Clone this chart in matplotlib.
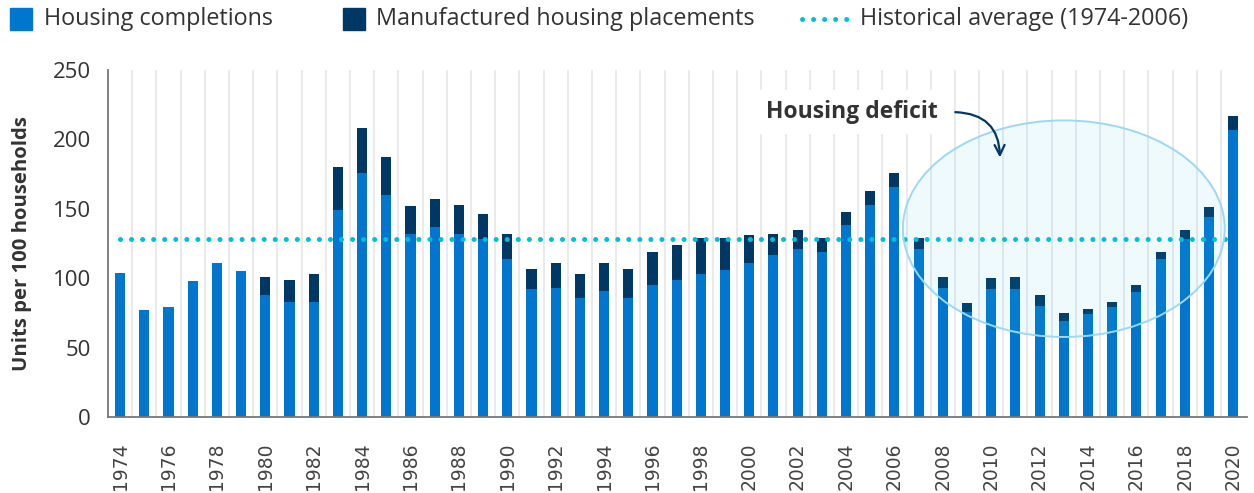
import matplotlib
matplotlib.use('Agg')
import matplotlib.pyplot as plt
from matplotlib.patches import Ellipse, Rectangle
from matplotlib.lines import Line2D

years = list(range(1974, 2021))
completions = [104, 77, 79, 98, 111, 105, 88, 83, 83, 149, 176, 160, 132, 137, 132, 128,
               114, 92, 93, 86, 91, 86, 95, 99, 103, 106, 111, 117, 121, 119, 138, 153,
               166, 121, 93, 76, 92, 92, 80, 69, 74, 79, 90, 114, 128, 144, 207]
totals = [104, 77, 79, 98, 111, 105, 101, 99, 103, 180, 208, 187, 152, 157, 153, 146,
          132, 107, 111, 103, 111, 107, 119, 124, 129, 129, 131, 132, 135, 129, 148, 163,
          176, 129, 101, 82, 100, 101, 88, 75, 78, 83, 95, 119, 135, 151, 217]
manufactured = [t - c for t, c in zip(totals, completions)]
hist_avg = 128.6
tick_years = years[::2]

c_blue = '#0076ce'
c_navy = '#003865'
c_cyan = '#00bfda'
c_text = '#333333'
fam = ['Open Sans', 'DejaVu Sans']

fig = plt.figure(figsize=(12.54, 4.93), dpi=100)
ax = fig.add_axes([0.0859, 0.154, 0.9085, 0.704])

x = list(range(len(years)))
ax.bar(x, completions, width=0.42, color=c_blue, zorder=2)
ax.bar(x, manufactured, width=0.42, bottom=completions, color=c_navy, zorder=2)
ax.plot([0, len(years) - 1], [hist_avg, hist_avg], color=c_cyan, lw=3.6,
        linestyle=(0, (0.01, 2.2)), dash_capstyle='round', zorder=3)

for k in range(len(years) - 1):
    ax.axvline(k + 0.5, color='#e6e6e6', lw=1.2, zorder=0)

ell = Ellipse((39.0, 135.7), 13.3, 156, facecolor='#33c3f0', alpha=0.08, edgecolor='none', zorder=3)
ax.add_patch(ell)
ell2 = Ellipse((39.0, 135.7), 13.3, 156, facecolor='none', edgecolor='#9dd8f3', lw=1.4, zorder=3)
ax.add_patch(ell2)

ax.text(30.25, 219.7, 'Housing deficit', fontsize=16.5, fontweight='bold', color=c_text,
        family=fam, ha='center', va='center', zorder=4,
        bbox=dict(facecolor='white', edgecolor='none', pad=7))
ax.annotate('', xy=(36.36, 185), xytext=(34.4, 219.7),
            arrowprops=dict(arrowstyle='->', color=c_navy, lw=1.6,
                            connectionstyle='arc3,rad=-0.5', mutation_scale=18), zorder=4)

ax.set_xlim(-0.51, 46.57)
ax.set_ylim(0, 250)
ax.set_yticks([0, 50, 100, 150, 200, 250])
ax.set_xticks(x[::2])
ax.set_xticklabels(tick_years, rotation=90, fontsize=13.5, family='DejaVu Sans', color='#444444')
for lab in ax.get_yticklabels():
    lab.set_fontsize(16)
    lab.set_family(fam)
    lab.set_color(c_text)
ax.tick_params(axis='x', length=0, pad=18)
ax.tick_params(axis='y', length=0, pad=12)
ax.set_ylabel('Units per 100 households', fontsize=14.6, fontweight='bold', color=c_text,
              family=fam, labelpad=15)
for s in ['top', 'right']:
    ax.spines[s].set_visible(False)
for s in ['left', 'bottom']:
    ax.spines[s].set_color('#777777')
    ax.spines[s].set_linewidth(1.3)

# legend drawn by hand at the top
H, W = 493, 1254
def fx(px):
    return px / W
def fy(py):
    return 1 - py / H

fig.patches.append(Rectangle((fx(10), fy(30)), fx(22), 22 / H, color=c_blue, transform=fig.transFigure))
fig.text(fx(44), fy(19), 'Housing completions', fontsize=16.8, color=c_text,
         family=fam, va='center')
fig.patches.append(Rectangle((fx(343), fy(30)), fx(22), 22 / H, color=c_navy, transform=fig.transFigure))
fig.text(fx(376), fy(19), 'Manufactured housing placements', fontsize=16.8, color=c_text,
         family=fam, va='center')
fig.lines.append(Line2D([fx(802), fx(848)], [fy(19), fy(19)], color=c_cyan, lw=3.6,
                        linestyle=(0, (0.01, 2.2)), dash_capstyle='round', transform=fig.transFigure))
fig.text(fx(860), fy(19), 'Historical average (1974-2006)', fontsize=16.8, color=c_text,
         family=fam, va='center')

fig.savefig('out.png', dpi=100)
